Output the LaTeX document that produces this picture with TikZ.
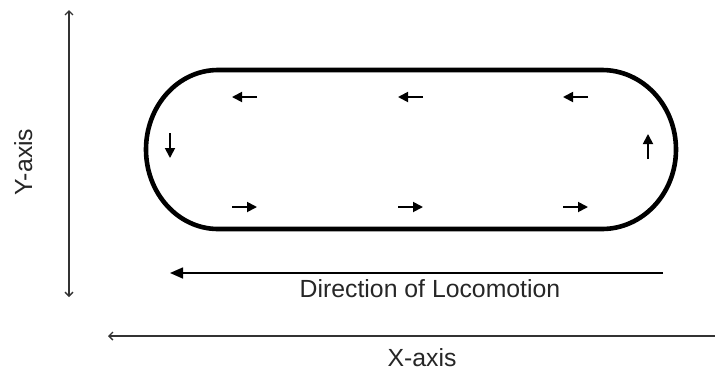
\documentclass[tikz,border=0pt]{standalone}
\usepackage{fontspec}
\setmainfont{Liberation Sans}
\usepackage{tikz}
\usetikzlibrary{arrows.meta}

\tikzset{
    axis/.style={line width=1.4pt, black!80, {Straight Barb[length=4pt,width=8pt]}-{Straight Barb[length=4pt,width=8pt]}},
    flow/.style={line width=1.8pt, -{Triangle[length=10pt,width=10pt]}},
    lbl/.style={font=\fontsize{24.8}{28}\selectfont, text=black!85, inner sep=0pt, anchor=base},
}

\begin{document}
\begin{tikzpicture}[x=1pt, y=-1pt]
    \useasboundingbox (0,0) rectangle (715,373);

    % axes
    \coordinate (ytop) at (69,10);
    \coordinate (ybot) at (69,297);
    \coordinate (xright) at (715,336);
    \coordinate (xleft) at (108,336);
    \draw [axis] (ytop) -- (ybot);
    \draw [axis, -{Straight Barb[length=4pt,width=8pt]}] (xright) -- (xleft);
    \node[lbl, rotate=90] at (32,162) (ylabel) {Y-axis};
    \node[lbl] at (422,366) (xlabel) {X-axis};

    % track
    \draw [line width=4.6pt] (218,70) -- (602,70)
        arc [start angle=-90, end angle=90, x radius=74, y radius=79.5]
        -- (218,229)
        arc [start angle=90, end angle=270, x radius=72, y radius=79.5] -- cycle;

    % flow along the track
    \foreach \x in {232, 398, 563} {
        \draw [flow] (\x+25,97) -- (\x,97);
        \draw [flow] (\x,207) -- (\x+25,207);
    }
    \draw [flow] (170,133) -- (170,158);
    \draw [flow] (648,159) -- (648,134);

    % locomotion
    \coordinate (dstart) at (663,273);
    \coordinate (dend) at (170,273);
    \draw [line width=1.6pt, -{Triangle[length=13pt,width=11pt]}] (dstart) -- (dend);
    \node[lbl] at (430,297) (dlabel) {Direction of Locomotion};
\end{tikzpicture}
\end{document}
